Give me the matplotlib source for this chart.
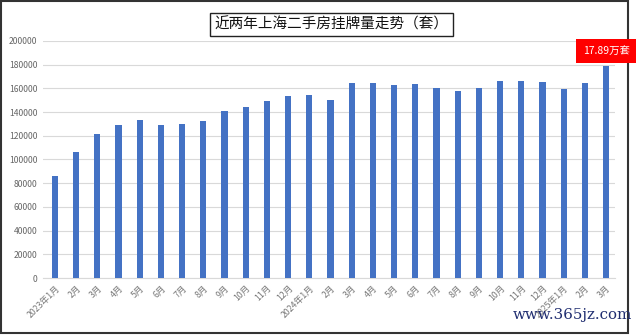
import matplotlib
matplotlib.use("Agg")
import matplotlib.pyplot as plt
from matplotlib.patches import Rectangle

plt.rcParams['font.family'] = ['Noto Sans CJK SC', 'DejaVu Sans']

# 月份标签
months = ['2023年1月', '2月', '3月', '4月', '5月', '6月', '7月', '8月', '9月', '10月', '11月', '12月',
          '2024年1月', '2月', '3月', '4月', '5月', '6月', '7月', '8月', '9月', '10月', '11月', '12月',
          '2025年1月', '2月', '3月']
# 挂牌量（套）
listings = [86300, 106600, 121300, 129400, 133100, 129400, 130200, 132500, 140900, 144300, 149100, 153900,
            154700, 150500, 164300, 164600, 163100, 164000, 160300, 158100, 160300, 166000, 166000, 165400,
            159200, 164600, 178900]
yticks = list(range(0, 200001, 20000))
title = '近两年上海二手房挂牌量走势（套）'
note = '17.89万套'

fig = plt.figure(figsize=(6.4, 3.35), dpi=100)
ax = fig.add_axes([0.067, 0.170, 0.894, 0.708])

x = range(len(months))
ax.bar(x, listings, width=0.29, color='#4472C4', zorder=3)
ax.set_xlim(-0.57, len(months) - 0.58)
ax.set_ylim(0, 200000)
ax.set_yticks(yticks)
ax.set_yticklabels([str(v) for v in yticks], fontsize=6.2, color='#666666')
ax.set_xticks(list(x))
ax.set_xticklabels(months, rotation=45, ha='right', rotation_mode='anchor', fontsize=6.3, color='#777777')
ax.tick_params(length=0, pad=4)
ax.grid(axis='y', color='#d9d9d9', linewidth=0.8, zorder=0)
for s in ['top', 'right', 'left']:
    ax.spines[s].set_visible(False)
ax.spines['bottom'].set_color('#d9d9d9')

# 标题框
fig.text(0.518, 0.927, title, ha='center', va='center', fontsize=10.5, color='#111111',
         bbox=dict(boxstyle='square,pad=0.3', facecolor='white', edgecolor='#222222', linewidth=1))

# 最后一根柱子的标注
fig.text(0.947, 0.848, note, ha='center', va='center', fontsize=7.5, color='white',
         bbox=dict(boxstyle='square,pad=0.65', facecolor='#ff0000', edgecolor='none'))

# 外框
fig.patches.append(Rectangle((0.002, 0.006), 0.979, 0.99, transform=fig.transFigure,
                             fill=False, edgecolor='#333333', linewidth=1.5))

# 水印
fig.text(0.988, 0.06, 'www.365jz.com', ha='right', va='center', fontsize=10.8,
         family='DejaVu Serif', color='#1f2d70')

fig.savefig('out.png', dpi=100)
